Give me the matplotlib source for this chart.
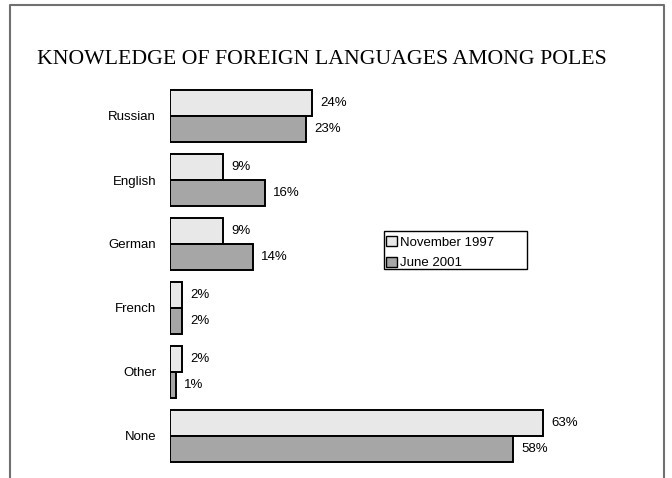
#!/usr/bin/python

# Horizontal grouped bars: foreign languages known by Poles, 1997 vs 2001

import matplotlib
matplotlib.use('Agg')
import matplotlib.pyplot as plt
from matplotlib.lines import Line2D
from matplotlib.patches import Rectangle
import numpy as np

languages = ['Russian', 'English', 'German', 'French', 'Other', 'None']
nov_1997 = [24, 9, 9, 2, 2, 63]
jun_2001 = [23, 16, 14, 2, 1, 58]
series_names = ['November 1997', 'June 2001']

W, H = 672., 478.
fig = plt.figure(figsize=(W/100, H/100), dpi=100)
plt.rcParams['font.family'] = ['Liberation Sans', 'DejaVu Sans']

# axes placed so that category 0 sits at y=116 px, spacing 64 px
ax_top = 80.
ax = fig.add_axes([170/W, 0, 1 - 170/W - 8/W, 1 - ax_top/H])
ax.set_xlim(0, (W - 8 - 170) / 5.92)
ax.set_ylim((H - 116) / 64., (ax_top - 116) / 64.)

y = np.arange(len(languages))
h = 0.414
b1 = ax.barh(y - h/2, nov_1997, h, color='#e8e8e8', edgecolor='black', lw=1.4,
             label=series_names[0])
b2 = ax.barh(y + h/2, jun_2001, h, color='#a6a6a6', edgecolor='black', lw=1.4,
             label=series_names[1])

for bars, vals in ((b1, nov_1997), (b2, jun_2001)):
    for bar, v in zip(bars, vals):
        ax.annotate('%d%%' % v, (bar.get_width(), bar.get_y() + bar.get_height()/2),
                    xytext=(6, 0), textcoords='offset points',
                    ha='left', va='center', fontsize=9.5)

ax.set_yticks(y)
ax.set_yticklabels(languages, fontsize=9.5)
ax.tick_params(axis='y', length=0, pad=10)
ax.set_xticks([])
for s in ax.spines.values():
    s.set_visible(False)

# legend without its own frame; box drawn separately to match the wide frame
leg = fig.legend(handles=[b1, b2], loc='upper left',
                 bbox_to_anchor=(386/W, 1 - 236/H), fontsize=9.5,
                 frameon=False, borderpad=0.0,
                 handlelength=0.8, handleheight=0.8, handletextpad=0.25,
                 labelspacing=0.6, borderaxespad=0)
for p in leg.get_patches():
    p.set_linewidth(1.0)
fig.add_artist(Rectangle((384/W, 1 - 269/H), 143/W, 38/H, fill=False,
                         edgecolor='black', lw=1.0, transform=fig.transFigure))

fig.text(37/W, 1 - 59/H, 'KNOWLEDGE OF FOREIGN LANGUAGES AMONG POLES',
         family='Liberation Serif', fontsize=15.7, ha='left', va='center')

# outer frame, open at the bottom
fx = [10/W, 10/W, 664/W, 664/W]
fy = [0, 1 - 5/H, 1 - 5/H, 0]
fig.add_artist(Line2D(fx, fy, color='#707070', lw=1.5, transform=fig.transFigure))

fig.savefig('out.png', dpi=100)
